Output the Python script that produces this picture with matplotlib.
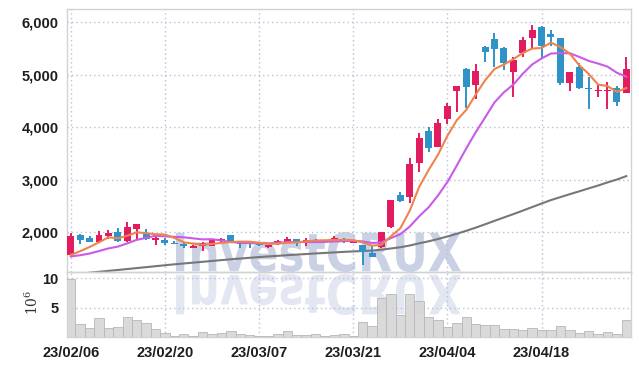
import matplotlib
matplotlib.use('Agg')
import matplotlib.pyplot as plt
import numpy as np
from matplotlib.textpath import TextPath
from matplotlib.font_manager import FontProperties
from matplotlib.patches import PathPatch
from matplotlib.transforms import Affine2D, IdentityTransform

# ---------------- data ----------------
tick_idx = [0, 10, 20, 30, 40, 50]
tick_labels = ['23/02/06', '23/02/20', '23/03/07', '23/03/21', '23/04/04', '23/04/18']

opens = [1570, 1950, 1885, 1820, 1930, 2010, 1825, 2065, 1980, 1855,
         1855, 1800, 1770, 1710, 1740, 1745, 1840, 1950, 1820, 1820,
         1800, 1715, 1770, 1810, 1870, 1810, 1835, 1840, 1835, 1855,
         1805, 1760, 1610, 1715, 2105, 2710, 2665, 3325, 3930, 3630,
         4150, 4700, 5110, 4805, 5530, 5680, 5515, 5060, 5410, 5695,
         5915, 5775, 5695, 4850, 5140, 4755, 4700, 4700, 4740, 4660]
highs = [1980, 1960, 1930, 2025, 2035, 2090, 2200, 2160, 2065, 1920,
         1885, 1835, 1790, 1760, 1820, 1860, 1890, 1950, 1825, 1830,
         1820, 1765, 1850, 1910, 1875, 1890, 1870, 1860, 1935, 1895,
         1840, 1760, 1740, 2010, 2620, 2775, 3410, 3885, 4010, 4165,
         4470, 4790, 5120, 5200, 5540, 5790, 5530, 5345, 5725, 5945,
         5925, 5850, 5700, 5060, 5215, 4950, 4805, 4870, 4790, 5345]
lows = [1550, 1770, 1810, 1810, 1880, 1820, 1815, 1875, 1860, 1760,
        1760, 1770, 1705, 1700, 1650, 1745, 1810, 1820, 1700, 1700,
        1730, 1710, 1760, 1800, 1745, 1745, 1800, 1830, 1830, 1795,
        1795, 1380, 1530, 1710, 2085, 2570, 2555, 3155, 3535, 3625,
        4060, 4295, 4360, 4530, 5250, 5150, 5100, 4570, 5330, 5485,
        5320, 5545, 4805, 4690, 4730, 4345, 4580, 4340, 4405, 4650]
closes = [1920, 1855, 1820, 1950, 1980, 1825, 2095, 2150, 1865, 1885,
          1790, 1775, 1730, 1740, 1790, 1855, 1870, 1820, 1780, 1780,
          1760, 1760, 1835, 1870, 1820, 1850, 1850, 1850, 1895, 1825,
          1835, 1630, 1535, 2000, 2615, 2600, 3300, 3800, 3610, 4075,
          4405, 4785, 4775, 5070, 5430, 5490, 5215, 5280, 5660, 5850,
          5550, 5725, 4850, 5045, 4740, 4730, 4705, 4705, 4490, 5110]
volume_m = [9.95, 2.2, 1.5, 3.2, 1.5, 1.7, 3.5, 3.0, 2.4, 1.35,
            0.68, 0.28, 0.5, 0.28, 0.85, 0.56, 0.73, 1.06, 0.56, 0.34,
            0.28, 0.28, 0.5, 1.06, 0.4, 0.34, 0.5, 0.23, 0.4, 0.56,
            0.23, 2.6, 1.9, 6.6, 7.4, 3.8, 7.4, 6.1, 3.4, 2.9,
            1.7, 2.5, 3.4, 2.25, 2.0, 2.0, 1.35, 1.35, 1.18, 1.5,
            1.2, 1.18, 1.85, 1.2, 0.73, 1.06, 0.56, 0.9, 0.5, 3.0]
ma5 = [1568, 1640, 1720, 1810, 1905, 1886, 1934, 2000, 1983, 1964,
       1957, 1893, 1809, 1784, 1765, 1778, 1797, 1815, 1823, 1821,
       1802, 1780, 1783, 1801, 1809, 1827, 1845, 1848, 1853, 1854,
       1851, 1807, 1744, 1765, 1923, 2076, 2410, 2863, 3185, 3477,
       3838, 4135, 4330, 4622, 4893, 5110, 5196, 5297, 5415, 5499,
       5511, 5613, 5527, 5404, 5182, 5018, 4814, 4785, 4674, 4748]
ma10 = [1540, 1563, 1596, 1643, 1693, 1727, 1789, 1856, 1894, 1935,
        1922, 1914, 1905, 1884, 1865, 1868, 1845, 1812, 1804, 1793,
        1790, 1789, 1799, 1812, 1815, 1815, 1813, 1816, 1827, 1832,
        1839, 1826, 1796, 1809, 1889, 1964, 2109, 2304, 2475, 2700,
        2957, 3273, 3597, 3904, 4185, 4474, 4666, 4814, 5019, 5196,
        5311, 5405, 5412, 5410, 5341, 5265, 5214, 5156, 5039, 4965]
ma60 = [1195, 1212, 1230, 1248, 1265, 1282, 1300, 1318, 1336, 1354,
        1372, 1390, 1406, 1422, 1438, 1454, 1470, 1486, 1500, 1514,
        1528, 1540, 1552, 1564, 1575, 1586, 1597, 1607, 1617, 1627,
        1636, 1643, 1652, 1668, 1692, 1715, 1748, 1790, 1828, 1872,
        1920, 1972, 2028, 2088, 2152, 2218, 2282, 2346, 2412, 2480,
        2548, 2614, 2670, 2726, 2780, 2836, 2890, 2950, 3005, 3070]

# ---------------- style ----------------
RED = '#e31c5f'
BLUE = '#2f93c8'
GRID = '#b9c1d9'
SPINE = '#d2d2d2'
TXT = '#1e1e1e'
plt.rcParams['font.family'] = ['Liberation Sans Narrow', 'Liberation Sans', 'DejaVu Sans']
plt.rcParams['mathtext.fontset'] = 'dejavuserif'
LBL = dict(fontsize=10.5, fontweight='bold', color=TXT)

W, H = 639, 366
fig = plt.figure(figsize=(W / 100, H / 100), dpi=100, facecolor='white')
L, R = 67, 631
TOP, MID, BOT = 9, 272.3, 337.3
ax = fig.add_axes([L / W, 1 - MID / H, (R - L) / W, (MID - TOP) / H])
axv = fig.add_axes([L / W, 1 - BOT / H, (R - L) / W, (BOT - MID) / H], sharex=ax)
for a in (ax, axv):
    a.set_facecolor('none')
    for s in a.spines.values():
        s.set_color(SPINE)
        s.set_linewidth(1.0)

x = np.arange(len(closes))
o = np.array(opens, float); c = np.array(closes, float)
hi = np.array(highs, float); lo = np.array(lows, float)
up = c >= o
cols = np.where(up, RED, BLUE)

ax.vlines(x, lo, hi, colors=cols, linewidth=1.4, zorder=3)
bottoms = np.minimum(o, c)
heights = np.maximum(np.abs(c - o), 14)
ax.bar(x, heights, bottom=bottoms, width=0.74, color=cols, zorder=4)

ax.plot(x, ma60, color='#777777', lw=1.5, zorder=2)
ax.plot(x, ma10, color='#c95be8', lw=1.5, zorder=5)
ax.plot(x, ma5, color='#ee844c', lw=1.5, zorder=6)

ax.set_xlim(-0.4, 59.5)
ax.set_ylim(1238, 6253)
ax.set_yticks([2000, 3000, 4000, 5000, 6000])
ax.set_yticklabels([f'{v:,}' for v in [2000, 3000, 4000, 5000, 6000]], **LBL)
ax.tick_params(axis='y', length=0, pad=6)
ax.tick_params(axis='x', length=0, labelbottom=False)
ax.grid(True, linestyle=(0, (1, 2.2)), color=GRID, linewidth=1.0, zorder=0)
ax.set_axisbelow(True)

# volume
axv.bar(x, volume_m, width=1.0, color='#d6d6d6', edgecolor='#b9b9b9',
        linewidth=0.7, alpha=0.9, zorder=3)
axv.set_ylim(0, 11)
axv.set_yticks([5, 10])
axv.set_yticklabels(['5', '10'], **LBL)
axv.set_xticks(tick_idx)
axv.set_xticklabels(tick_labels, **LBL)
axv.tick_params(axis='y', length=0, pad=6)
axv.tick_params(axis='x', length=0, pad=6)
axv.grid(True, linestyle=(0, (1, 2.2)), color=GRID, linewidth=1.0, zorder=0)
axv.set_axisbelow(True)
fig.text(32 / W, 1 - 302 / H, r'$\mathregular{10^{6}}$', rotation=90, ha='center',
         va='center', fontsize=10, color='#333333', family='DejaVu Serif')

# watermark with reflection
fp = FontProperties(family='DejaVu Sans', weight='bold')
tp = TextPath((0, 0), 'InvestCRUX', size=100, prop=fp)
ext = tp.get_extents()

def add_wm(x0, x1, ybase, height, flip, color):
    sx = (x1 - x0) / ext.width
    sy = height / ext.height
    tr = Affine2D().translate(-ext.x0, -ext.y0).scale(sx, -sy if flip else sy).translate(x0, ybase)
    p = PathPatch(tr.transform_path(tp), facecolor=color, edgecolor='none',
                  transform=IdentityTransform(), zorder=-1)
    fig.add_artist(p)

add_wm(176, 461, H - 272, 40, False, '#cad1e5')
add_wm(176, 461, H - 274, 41, True, '#e3e7f1')

fig.savefig('out.png', dpi=100, facecolor='white')
